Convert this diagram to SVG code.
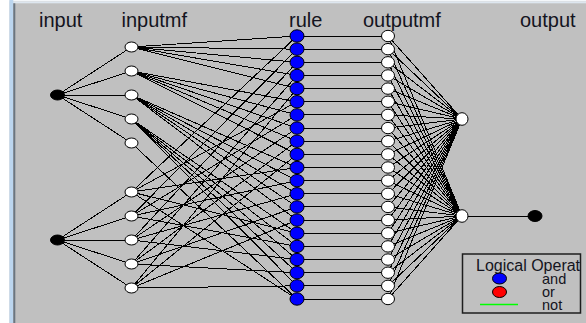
<svg xmlns="http://www.w3.org/2000/svg" width="586" height="323" viewBox="0 0 586 323">
<defs>
<style>
.bg{fill:#c0c0c0}
.lbl{font-family:"Liberation Sans",Arial,sans-serif;font-size:20px;fill:#141420}
.leg{font-family:"Liberation Sans",Arial,sans-serif;fill:#141420}
.con{fill:none;stroke:#000;stroke-width:1;shape-rendering:crispEdges}
.blk{fill:#000;stroke:#000;stroke-width:1}
.wht{fill:#fff;stroke:#000;stroke-width:1}
.blu{fill:#0000ff;stroke:#000;stroke-width:1}
.red{fill:#ff0000;stroke:#000;stroke-width:1}
</style>
</defs>
<rect class="bg" x="0" y="0" width="586" height="323"/>
<rect x="0" y="0" width="9.5" height="323" fill="#ffffff"/>
<rect x="9.5" y="0" width="576.5" height="1.5" fill="#f4f7fa"/>
<rect x="9.5" y="1.5" width="576.5" height="1.8" fill="#dde6ef"/>
<rect x="9.5" y="0" width="3.8" height="323" fill="#bcd6ef"/>
<rect x="13.3" y="3.3" width="2" height="319.7" fill="#6b7680"/>

<text class="lbl" x="39" y="27">input</text>
<text class="lbl" x="121.5" y="27">inputmf</text>
<text class="lbl" x="289" y="27">rule</text>
<text class="lbl" x="363" y="27">outputmf</text>
<text class="lbl" x="520" y="27">output</text>

<g id="connectors" class="con">
<path d="M57.5 95L131.5 47M57.5 95L131.5 71M57.5 95L131.5 95M57.5 95L131.5 119M57.5 95L131.5 143"/>
<path d="M57.5 240L131.5 192M57.5 240L131.5 216M57.5 240L131.5 240M57.5 240L131.5 264M57.5 240L131.5 288"/>
<path d="M131.5 47L297 36M131.5 47L297 49.15M131.5 47L297 62.3M131.5 47L297 75.45M131.5 47L297 88.6"/>
<path d="M131.5 71L297 101.75M131.5 71L297 114.9M131.5 71L297 128.05M131.5 71L297 141.2M131.5 71L297 154.35"/>
<path d="M131.5 95L297 167.5M131.5 95L297 180.65M131.5 95L297 193.8M131.5 95L297 206.95M131.5 95L297 220.1"/>
<path d="M131.5 119L297 233.25M131.5 119L297 246.4M131.5 119L297 259.55M131.5 119L297 272.7M131.5 119L297 285.85"/>
<path d="M131.5 143L297 299"/>
<path d="M131.5 192L297 36M131.5 192L297 101.75M131.5 192L297 167.5M131.5 192L297 233.25M131.5 192L297 299"/>
<path d="M131.5 216L297 49.15M131.5 216L297 114.9M131.5 216L297 180.65M131.5 216L297 246.4"/>
<path d="M131.5 240L297 62.3M131.5 240L297 128.05M131.5 240L297 193.8M131.5 240L297 259.55"/>
<path d="M131.5 264L297 75.45M131.5 264L297 141.2M131.5 264L297 206.95M131.5 264L297 272.7"/>
<path d="M131.5 288L297 88.6M131.5 288L297 154.35M131.5 288L297 220.1M131.5 288L297 285.85"/>
<path d="M297 36H388M297 49.15H388M297 62.3H388M297 75.45H388M297 88.6H388M297 101.75H388M297 114.9H388M297 128.05H388M297 141.2H388M297 154.35H388M297 167.5H388M297 180.65H388M297 193.8H388M297 206.95H388M297 220.1H388M297 233.25H388M297 246.4H388M297 259.55H388M297 272.7H388M297 285.85H388M297 299H388"/>
<path d="M388 36L462 119M388 49.15L462 119M388 62.3L462 119M388 75.45L462 119M388 88.6L462 119M388 101.75L462 119M388 114.9L462 119M388 128.05L462 119M388 141.2L462 119M388 154.35L462 119M388 167.5L462 119M388 180.65L462 119M388 193.8L462 119M388 206.95L462 119M388 220.1L462 119M388 233.25L462 119M388 246.4L462 119M388 259.55L462 119M388 272.7L462 119M388 285.85L462 119M388 299L462 119"/>
<path d="M388 36L462 216M388 49.15L462 216M388 62.3L462 216M388 75.45L462 216M388 88.6L462 216M388 101.75L462 216M388 114.9L462 216M388 128.05L462 216M388 141.2L462 216M388 154.35L462 216M388 167.5L462 216M388 180.65L462 216M388 193.8L462 216M388 206.95L462 216M388 220.1L462 216M388 233.25L462 216M388 246.4L462 216M388 259.55L462 216M388 272.7L462 216M388 285.85L462 216M388 299L462 216"/>
<path d="M462 216L535 216"/>
</g>

<g id="input1"><ellipse class="blk" cx="57.5" cy="95" rx="7" ry="5"/></g>
<g id="input2"><ellipse class="blk" cx="57.5" cy="240" rx="7" ry="5"/></g>

<g id="in1mf1"><ellipse class="wht" cx="131.5" cy="47" rx="6.5" ry="5"/></g>
<g id="in1mf2"><ellipse class="wht" cx="131.5" cy="71" rx="6.5" ry="5"/></g>
<g id="in1mf3"><ellipse class="wht" cx="131.5" cy="95" rx="6.5" ry="5"/></g>
<g id="in1mf4"><ellipse class="wht" cx="131.5" cy="119" rx="6.5" ry="5"/></g>
<g id="in1mf5"><ellipse class="wht" cx="131.5" cy="143" rx="6.5" ry="5"/></g>
<g id="in2mf1"><ellipse class="wht" cx="131.5" cy="192" rx="6.5" ry="5"/></g>
<g id="in2mf2"><ellipse class="wht" cx="131.5" cy="216" rx="6.5" ry="5"/></g>
<g id="in2mf3"><ellipse class="wht" cx="131.5" cy="240" rx="6.5" ry="5"/></g>
<g id="in2mf4"><ellipse class="wht" cx="131.5" cy="264" rx="6.5" ry="5"/></g>
<g id="in2mf5"><ellipse class="wht" cx="131.5" cy="288" rx="6.5" ry="5"/></g>

<g id="rule1"><ellipse class="blu" cx="297" cy="36" rx="7" ry="6.2"/></g>
<g id="rule2"><ellipse class="blu" cx="297" cy="49.15" rx="7" ry="6.2"/></g>
<g id="rule3"><ellipse class="blu" cx="297" cy="62.3" rx="7" ry="6.2"/></g>
<g id="rule4"><ellipse class="blu" cx="297" cy="75.45" rx="7" ry="6.2"/></g>
<g id="rule5"><ellipse class="blu" cx="297" cy="88.6" rx="7" ry="6.2"/></g>
<g id="rule6"><ellipse class="blu" cx="297" cy="101.75" rx="7" ry="6.2"/></g>
<g id="rule7"><ellipse class="blu" cx="297" cy="114.9" rx="7" ry="6.2"/></g>
<g id="rule8"><ellipse class="blu" cx="297" cy="128.05" rx="7" ry="6.2"/></g>
<g id="rule9"><ellipse class="blu" cx="297" cy="141.2" rx="7" ry="6.2"/></g>
<g id="rule10"><ellipse class="blu" cx="297" cy="154.35" rx="7" ry="6.2"/></g>
<g id="rule11"><ellipse class="blu" cx="297" cy="167.5" rx="7" ry="6.2"/></g>
<g id="rule12"><ellipse class="blu" cx="297" cy="180.65" rx="7" ry="6.2"/></g>
<g id="rule13"><ellipse class="blu" cx="297" cy="193.8" rx="7" ry="6.2"/></g>
<g id="rule14"><ellipse class="blu" cx="297" cy="206.95" rx="7" ry="6.2"/></g>
<g id="rule15"><ellipse class="blu" cx="297" cy="220.1" rx="7" ry="6.2"/></g>
<g id="rule16"><ellipse class="blu" cx="297" cy="233.25" rx="7" ry="6.2"/></g>
<g id="rule17"><ellipse class="blu" cx="297" cy="246.4" rx="7" ry="6.2"/></g>
<g id="rule18"><ellipse class="blu" cx="297" cy="259.55" rx="7" ry="6.2"/></g>
<g id="rule19"><ellipse class="blu" cx="297" cy="272.7" rx="7" ry="6.2"/></g>
<g id="rule20"><ellipse class="blu" cx="297" cy="285.85" rx="7" ry="6.2"/></g>
<g id="rule21"><ellipse class="blu" cx="297" cy="299" rx="7" ry="6.2"/></g>

<g id="outmf1"><ellipse class="wht" cx="388" cy="36" rx="6.5" ry="5.7"/></g>
<g id="outmf2"><ellipse class="wht" cx="388" cy="49.15" rx="6.5" ry="5.7"/></g>
<g id="outmf3"><ellipse class="wht" cx="388" cy="62.3" rx="6.5" ry="5.7"/></g>
<g id="outmf4"><ellipse class="wht" cx="388" cy="75.45" rx="6.5" ry="5.7"/></g>
<g id="outmf5"><ellipse class="wht" cx="388" cy="88.6" rx="6.5" ry="5.7"/></g>
<g id="outmf6"><ellipse class="wht" cx="388" cy="101.75" rx="6.5" ry="5.7"/></g>
<g id="outmf7"><ellipse class="wht" cx="388" cy="114.9" rx="6.5" ry="5.7"/></g>
<g id="outmf8"><ellipse class="wht" cx="388" cy="128.05" rx="6.5" ry="5.7"/></g>
<g id="outmf9"><ellipse class="wht" cx="388" cy="141.2" rx="6.5" ry="5.7"/></g>
<g id="outmf10"><ellipse class="wht" cx="388" cy="154.35" rx="6.5" ry="5.7"/></g>
<g id="outmf11"><ellipse class="wht" cx="388" cy="167.5" rx="6.5" ry="5.7"/></g>
<g id="outmf12"><ellipse class="wht" cx="388" cy="180.65" rx="6.5" ry="5.7"/></g>
<g id="outmf13"><ellipse class="wht" cx="388" cy="193.8" rx="6.5" ry="5.7"/></g>
<g id="outmf14"><ellipse class="wht" cx="388" cy="206.95" rx="6.5" ry="5.7"/></g>
<g id="outmf15"><ellipse class="wht" cx="388" cy="220.1" rx="6.5" ry="5.7"/></g>
<g id="outmf16"><ellipse class="wht" cx="388" cy="233.25" rx="6.5" ry="5.7"/></g>
<g id="outmf17"><ellipse class="wht" cx="388" cy="246.4" rx="6.5" ry="5.7"/></g>
<g id="outmf18"><ellipse class="wht" cx="388" cy="259.55" rx="6.5" ry="5.7"/></g>
<g id="outmf19"><ellipse class="wht" cx="388" cy="272.7" rx="6.5" ry="5.7"/></g>
<g id="outmf20"><ellipse class="wht" cx="388" cy="285.85" rx="6.5" ry="5.7"/></g>
<g id="outmf21"><ellipse class="wht" cx="388" cy="299" rx="6.5" ry="5.7"/></g>

<g id="agg1"><ellipse class="wht" cx="462" cy="119" rx="6" ry="6.3"/></g>
<g id="agg2"><ellipse class="wht" cx="462" cy="216" rx="6" ry="6.3"/></g>
<g id="output"><ellipse class="blk" cx="535" cy="216" rx="7" ry="5.5"/></g>

<g id="legend">
<rect x="462.5" y="254" width="118" height="59" fill="none" stroke="#1e1e1e" stroke-width="1.5"/>
<text class="leg" x="476" y="270.5" font-size="16">Logical Operat</text>
<ellipse class="blu" cx="499.5" cy="278.5" rx="7" ry="5.5"/>
<ellipse class="red" cx="499.5" cy="292" rx="7" ry="5.5"/>
<line x1="480" y1="304.5" x2="518" y2="304.5" stroke="#00ff00" stroke-width="1.5"/>
<text class="leg" x="542" y="284" font-size="14.5">and</text>
<text class="leg" x="542" y="297" font-size="14.5">or</text>
<text class="leg" x="542" y="310" font-size="14.5">not</text>
</g>
</svg>
